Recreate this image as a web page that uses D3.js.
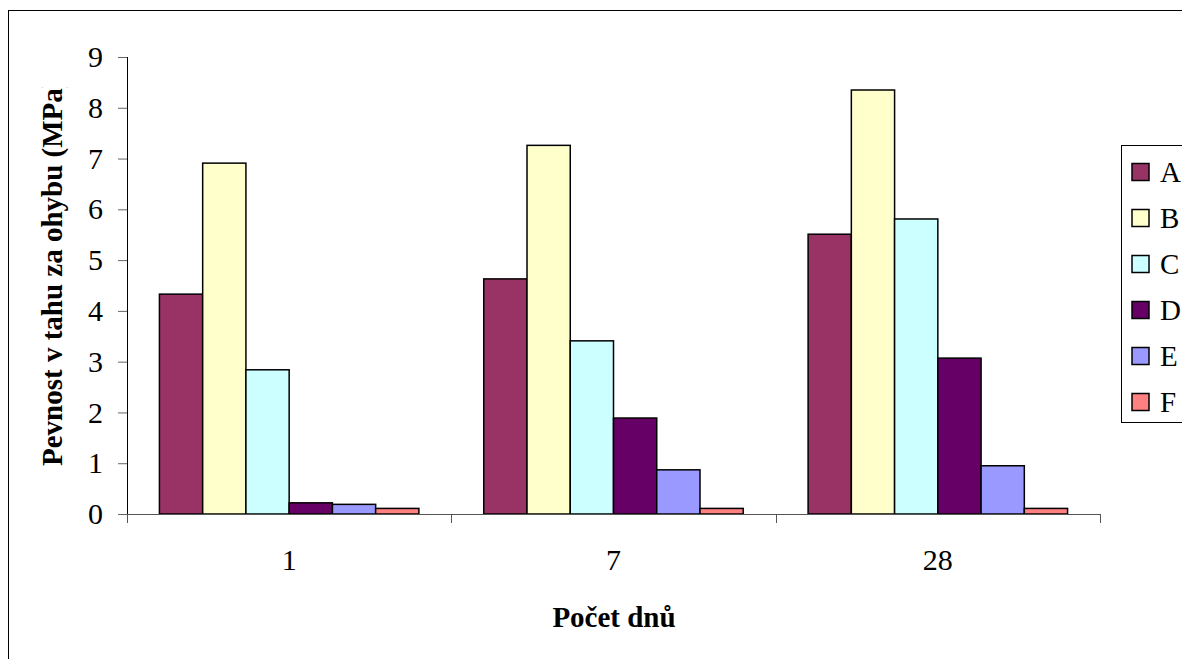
<!DOCTYPE html>
<html>
<head>
<meta charset="utf-8">
<script src="https://cdn.jsdelivr.net/npm/d3@7"></script>
<style>
  html, body { margin: 0; padding: 0; background: #fff; }
</style>
</head>
<body>
<svg id="chart" width="1182" height="659"></svg>
<script>
// Flexural strength by curing age
const days = ["1", "7", "28"];
const seriesNames = ["A", "B", "C", "D", "E", "F"];
const seriesColors = ["#993366", "#FFFFCC", "#CCFFFF", "#660066", "#9999FF", "#FF8080"];
const valuesA = [4.33, 4.63, 5.51];
const valuesB = [6.91, 7.26, 8.35];
const valuesC = [2.84, 3.41, 5.81];
const valuesD = [0.22, 1.89, 3.07];
const valuesE = [0.19, 0.87, 0.95];
const valuesF = [0.11, 0.11, 0.11];
const yTicks = [0, 1, 2, 3, 4, 5, 6, 7, 8, 9];

const seriesValues = [valuesA, valuesB, valuesC, valuesD, valuesE, valuesF];
const FONT = '"Liberation Serif", serif';

const svg = d3.select("#chart").style("font-family", FONT);

// outer chart frame
svg.append("rect")
  .attr("x", 8.5).attr("y", 10.5)
  .attr("width", 1200).attr("height", 700)
  .attr("fill", "#fff").attr("stroke", "#000").attr("stroke-width", 1);

const plot = { left: 127, right: 1100, top: 57, bottom: 514 };

const x0 = d3.scaleBand().domain(days).range([plot.left, plot.right]).paddingInner(0).paddingOuter(0);
const x1 = d3.scaleBand().domain(seriesNames).range([0, x0.bandwidth()])
  .paddingInner(0).paddingOuter(0.75);
const y = d3.scaleLinear().domain([0, 9]).range([plot.bottom, plot.top]);

// bars
const groups = svg.append("g").selectAll("g")
  .data(days)
  .join("g")
  .attr("transform", d => `translate(${x0(d)},0)`);

groups.selectAll("rect")
  .data((d, i) => seriesNames.map((s, j) => ({ s, j, v: seriesValues[j][i] })))
  .join("rect")
  .attr("x", d => x1(d.s))
  .attr("width", x1.bandwidth())
  .attr("y", d => y(d.v))
  .attr("height", d => y(0) - y(d.v))
  .attr("fill", d => seriesColors[d.j])
  .attr("stroke", "#000")
  .attr("stroke-width", 1.5);

// y axis
const yAxis = svg.append("g")
  .attr("transform", `translate(${plot.left},0)`)
  .call(d3.axisLeft(y).tickValues(yTicks).tickSize(9).tickPadding(15).tickFormat(d3.format("d")));
yAxis.attr("font-family", null).attr("font-size", null);
yAxis.select(".domain").attr("stroke", "#000").attr("d", `M0.5,${plot.top}V${plot.bottom}`);
yAxis.selectAll(".tick line").attr("stroke", "#666");
yAxis.selectAll(".tick text")
  .style("font-size", "30px").style("font-family", FONT).attr("fill", "#000");

// x axis: category separators
const xAxisG = svg.append("g");
xAxisG.append("line")
  .attr("x1", plot.left).attr("x2", plot.right)
  .attr("y1", plot.bottom + 0.5).attr("y2", plot.bottom + 0.5)
  .attr("stroke", "#555");
const sepPositions = days.map(d => x0(d)).concat([x0(days[days.length - 1]) + x0.bandwidth()]);
xAxisG.selectAll("line.sep")
  .data(sepPositions)
  .join("line")
  .attr("class", "sep")
  .attr("x1", d => Math.round(d) + 0.5).attr("x2", d => Math.round(d) + 0.5)
  .attr("y1", plot.bottom).attr("y2", plot.bottom + 9)
  .attr("stroke", "#555");
xAxisG.selectAll("text")
  .data(days)
  .join("text")
  .attr("x", d => x0(d) + x0.bandwidth() / 2)
  .attr("y", 570)
  .attr("text-anchor", "middle")
  .style("font-size", "30px").style("font-family", FONT)
  .text(d => d);

// axis titles
svg.append("text")
  .attr("x", 614).attr("y", 627)
  .attr("text-anchor", "middle")
  .style("font-size", "29px").style("font-weight", "bold").style("font-family", FONT)
  .text("Počet dnů");

// the vertical title runs past the top of its frame and is cut off there
svg.append("clipPath").attr("id", "ytitle-clip")
  .append("rect").attr("x", 0).attr("y", 87.5).attr("width", 120).attr("height", 500);
svg.append("g").attr("clip-path", "url(#ytitle-clip)")
  .append("text")
  .attr("transform", "translate(62,466) rotate(-90)")
  .attr("text-anchor", "start")
  .style("font-size", "29px").style("font-weight", "bold").style("font-family", FONT)
  .text("Pevnost v tahu za ohybu (MPa)");

// legend
const legend = svg.append("g");
legend.append("rect")
  .attr("x", 1121.5).attr("y", 145.5)
  .attr("width", 100).attr("height", 277)
  .attr("fill", "#fff").attr("stroke", "#000");
const items = legend.selectAll("g.item")
  .data(seriesNames)
  .join("g")
  .attr("class", "item")
  .attr("transform", (d, i) => `translate(1132,${172 + i * 46})`);
items.append("rect")
  .attr("y", -8.5)
  .attr("width", 17).attr("height", 17)
  .attr("fill", (d, i) => seriesColors[i])
  .attr("stroke", "#000").attr("stroke-width", 1.5);
items.append("text")
  .attr("x", 28).attr("y", 9.5)
  .style("font-size", "29px").style("font-family", FONT)
  .text(d => d);
</script>
</body>
</html>
